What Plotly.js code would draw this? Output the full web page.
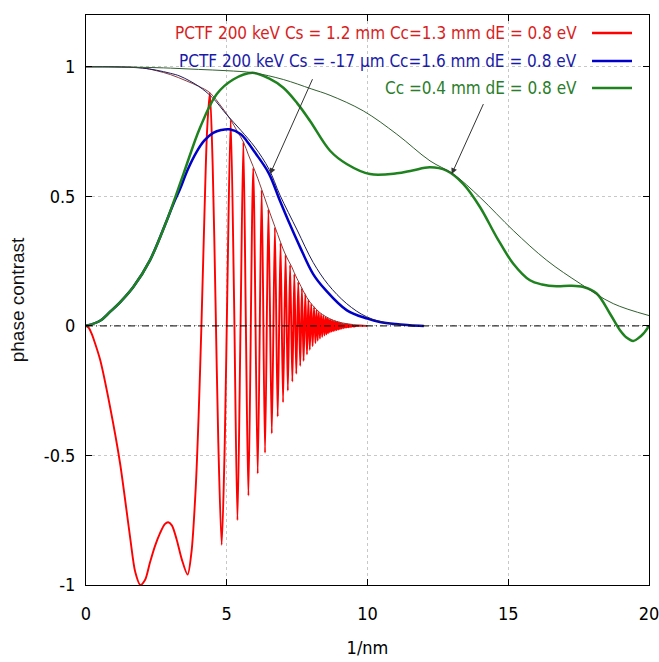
<!DOCTYPE html>
<html><head><meta charset="utf-8">
<script src="https://cdn.plot.ly/plotly-3.0.1.min.js"></script>
<style>html,body{margin:0;padding:0;background:#fff}#chart{width:659px;height:662px}</style>
</head><body><div id="chart"></div>
<script>
// ---------------- data ----------------
const redX = [0,0.1,0.2,0.3,0.5,0.85,1.21,1.56,1.75,1.93,2.1,2.27,2.45,2.63,2.8,2.92,3.05,3.22,3.4,3.61,3.75,3.9,4.0,4.1,4.2,4.3,4.4,
  4.5,4.6,4.7,4.82,4.93,5.03,5.14,5.26,5.38,5.49,5.59,5.68,5.77,5.94,6.10,6.24,6.36,6.48,6.60,6.71,6.81,6.91,7.00,7.09,7.17,7.25,7.33,7.40,7.47,7.54,7.61,7.67,7.73,7.79,7.85,7.90,7.95,8.00,8.05,8.10,8.15,8.19,8.23,8.27,8.31,8.35,8.39,8.43,8.47,8.51,8.54,8.57,8.60,8.63,8.66,8.69,8.72,8.75,8.78,8.81,8.84,8.87,8.90,8.93,8.96,8.99,9.02,9.05,9.08,9.11,9.14,9.17,9.20,9.23,9.26,9.29,9.32,9.35,9.38,9.41,9.44,9.47,9.50,9.6,10];
const redY = [0,-0.008,-0.03,-0.06,-0.13,-0.31,-0.53,-0.81,-0.95,-1.0,-0.98,-0.914,-0.85,-0.80,-0.765,-0.758,-0.77,-0.824,-0.9,-0.96,-0.87,-0.62,-0.35,0.0,0.4,0.75,0.90,
  0.62,0.1,-0.45,-0.845,-0.45,0.2,0.795,0.1,-0.75,0.0,0.71,0.0,-0.655,0.61,-0.57,0.525,-0.49,0.45,-0.415,0.38,-0.35,0.32,-0.295,0.275,-0.25,0.235,-0.215,0.2,-0.185,0.17,-0.155,0.145,-0.135,0.122,-0.11,0.1,-0.092,0.085,-0.078,0.072,-0.066,0.061,-0.057,0.053,-0.049,0.046,-0.043,0.04,-0.037,0.035,-0.033,0.031,-0.029,0.027,-0.025,0.024,-0.022,0.021,-0.02,0.019,-0.018,0.017,-0.016,0.015,-0.014,0.013,-0.012,0.011,-0.010,0.009,-0.009,0.008,-0.007,0.007,-0.006,0.006,-0.005,0.005,-0.004,0.004,-0.003,0.003,-0.002,0,0];

const redEnvX = [0,1,2,2.5,3,3.58,4.0,4.4,4.82,5.14,5.38,5.59,5.77,5.94,6.10,6.24,6.36,6.48,6.60,6.71,6.81,6.91,7.0,7.1,7.2,7.31,7.4,7.5,7.64,7.78,7.92,8.07,8.3,8.5,8.8,9.0,9.5,10];
const redEnvY = [1,1,0.996,0.985,0.97,0.945,0.925,0.90,0.845,0.795,0.75,0.71,0.66,0.615,0.57,0.527,0.49,0.452,0.416,0.383,0.353,0.323,0.297,0.272,0.25,0.228,0.205,0.182,0.152,0.122,0.097,0.077,0.052,0.037,0.021,0.014,0.005,0.001];

const blueX = [0,0.5,0.85,1.2,1.68,2.27,2.87,3.1,3.34,3.6,3.93,4.2,4.52,4.8,5.09,5.5,5.71,6.0,6.49,6.89,7.25,7.6,8.07,8.5,9.27,10.0,10.44,11.0,11.5,12.0];
const blueY = [0,0.02,0.054,0.09,0.15,0.253,0.407,0.47,0.528,0.6,0.672,0.715,0.745,0.756,0.759,0.74,0.714,0.67,0.59,0.483,0.39,0.305,0.2,0.14,0.06,0.028,0.015,0.007,0.003,0];

const blueEnvX = [0,1,2,2.5,3,3.34,4,4.5,5,5.5,6,6.5,6.89,7.5,8.07,8.6,9.26,9.97,10.8,11.5,12];
const blueEnvY = [1,1,0.995,0.987,0.975,0.964,0.925,0.88,0.815,0.755,0.69,0.605,0.505,0.37,0.245,0.16,0.086,0.035,0.009,0.002,0];

const greenX = [0,0.5,0.85,1.2,1.68,2.27,2.87,3.46,4.05,4.64,5.23,5.91,6.5,7.01,7.5,7.96,8.67,9.26,10.09,11.04,11.6,12.22,12.81,13.4,14.0,14.59,15.18,15.77,16.2,16.72,17.2,17.67,18.14,18.61,18.97,19.2,19.44,19.65,19.8,20];
const greenY = [0,0.02,0.054,0.09,0.15,0.253,0.407,0.586,0.765,0.894,0.951,0.977,0.955,0.919,0.86,0.791,0.676,0.625,0.586,0.589,0.60,0.612,0.599,0.548,0.458,0.342,0.24,0.176,0.16,0.153,0.155,0.15,0.125,0.048,-0.017,-0.045,-0.058,-0.045,-0.03,0];

const greenEnvX = [0,2,3,4,5,5.94,7.01,8.0,8.67,9.85,11.04,12.22,13.05,14.0,15.18,16.37,17.56,18.73,20];
const greenEnvY = [1,0.998,0.995,0.99,0.985,0.977,0.951,0.915,0.89,0.83,0.74,0.637,0.586,0.496,0.368,0.253,0.163,0.086,0.04];

const legendLabels = [
  "PCTF 200 keV Cs = 1.2 mm Cc=1.3 mm dE = 0.8 eV",
  "PCTF 200 keV Cs = -17 µm Cc=1.6 mm dE = 0.8 eV",
  "Cc =0.4 mm dE = 0.8 eV"
];
const xTickVals = [0,5,10,15,20];
const xTickText = ["0","5","10","15","20"];
const yTickVals = [-1,-0.5,0,0.5,1];
const yTickText = ["-1","-0.5","0","0.5","1"];
const xTitle = "1/nm";
const yTitle = "phase contrast";

// ---------------- styles ----------------
const FONT = "'DejaVu Sans Condensed', 'Liberation Sans', Arial, sans-serif";
const cRed = "#ff0000", cBlue = "#0000c8", cGreen = "#1e821e";
const cRedEnv = "#8a3a3a", cBlueEnv = "#1c1c5a", cGreenEnv = "#2f5f2f";
const textColors = ["#d81e1e", "#1a1aa8", "#2a7d2a"];
const lineColors = [cRed, cBlue, cGreen];

const traces = [
  {x: redX, y: redY, mode: 'lines', line: {color: cRed, width: 1.9, shape: 'spline', smoothing: 0.8}, name: legendLabels[0], showlegend: false},
  {x: redEnvX, y: redEnvY, mode: 'lines', line: {color: cRedEnv, width: 1, shape: 'spline'}, showlegend: false},
  {x: blueX, y: blueY, mode: 'lines', line: {color: cBlue, width: 2.5, shape: 'spline'}, name: legendLabels[1], showlegend: false},
  {x: blueEnvX, y: blueEnvY, mode: 'lines', line: {color: cBlueEnv, width: 1, shape: 'spline'}, showlegend: false},
  {x: greenX, y: greenY, mode: 'lines', line: {color: cGreen, width: 2.5, shape: 'spline'}, name: legendLabels[2], showlegend: false},
  {x: greenEnvX, y: greenEnvY, mode: 'lines', line: {color: cGreenEnv, width: 1, shape: 'spline'}, showlegend: false}
];

// legend (text, then a line sample to its right), in paper coords
const legRowsY = [0.9684, 0.9193, 0.8719];
const annotations = [];
const shapes = [];
for (let i = 0; i < legendLabels.length; i++) {
  annotations.push({xref: 'paper', yref: 'paper', x: 0.8757, y: legRowsY[i], xanchor: 'right', yanchor: 'middle',
    text: legendLabels[i], showarrow: false, font: {family: FONT, size: 17, color: textColors[i]}});
  shapes.push({type: 'line', xref: 'paper', yref: 'paper', x0: 0.8988, x1: 0.9698, y0: legRowsY[i], y1: legRowsY[i],
    line: {color: lineColors[i], width: 2.5}});
}
// zero line, dash-dot
shapes.push({type: 'line', xref: 'paper', yref: 'y', x0: 0, x1: 1, y0: 0, y1: 0, layer: 'above',
  line: {color: '#000', width: 1, dash: '7px,3px,1px,3px'}});
// arrows
annotations.push({x: 6.54, y: 0.586, ax: 8.07, ay: 0.958, xref: 'x', yref: 'y', axref: 'x', ayref: 'y',
  showarrow: true, arrowhead: 2, arrowsize: 1.2, arrowwidth: 1, arrowcolor: '#333', text: ''});
annotations.push({x: 12.99, y: 0.586, ax: 14.14, ay: 0.862, xref: 'x', yref: 'y', axref: 'x', ayref: 'y',
  showarrow: true, arrowhead: 2, arrowsize: 1.2, arrowwidth: 1, arrowcolor: '#333', text: ''});

const axisCommon = {
  showline: true, linecolor: '#000', linewidth: 1, mirror: 'ticks',
  ticks: 'inside', ticklen: 6, tickcolor: '#000', tickwidth: 1,
  showgrid: true, gridcolor: '#c8c8c8', griddash: 'dot', gridwidth: 1,
  zeroline: false, ticklabeloverflow: 'allow',
  tickfont: {family: FONT, size: 18, color: '#000'}
};

const layout = {
  width: 659, height: 662,
  margin: {l: 86, r: 10, t: 15, b: 77},
  paper_bgcolor: '#fff', plot_bgcolor: '#fff',
  showlegend: false,
  xaxis: Object.assign({}, axisCommon, {range: [0, 20], tickmode: 'array', tickvals: xTickVals, ticktext: xTickText,
    ticklabelstandoff: 12,
    title: {text: xTitle, font: {family: FONT, size: 18, color: '#000'}, standoff: 18}}),
  yaxis: Object.assign({}, axisCommon, {range: [-1, 1.2], tickmode: 'array', tickvals: yTickVals, ticktext: yTickText,
    ticklabelstandoff: 6,
    title: {text: yTitle, font: {family: "'Liberation Sans', Arial, sans-serif", size: 19, color: '#111'}, standoff: 14}}),
  annotations: annotations,
  shapes: shapes
};

Plotly.newPlot('chart', traces, layout, {displayModeBar: false, staticPlot: true});
</script></body></html>
